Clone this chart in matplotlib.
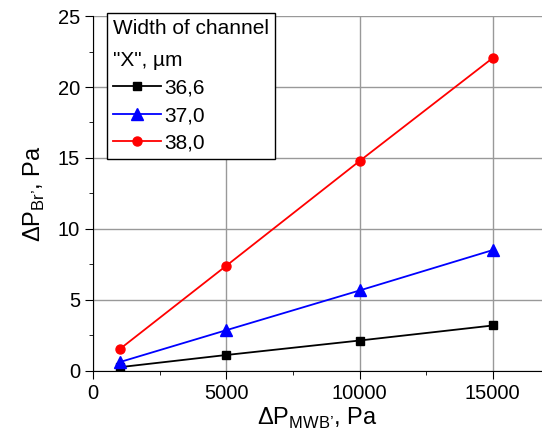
import numpy as np
import matplotlib
matplotlib.use('Agg')
import matplotlib.pyplot as plt
from matplotlib.ticker import MultipleLocator

plt.rcParams['font.family'] = ['Liberation Sans', 'DejaVu Sans']
plt.rcParams['mathtext.fontset'] = 'custom'
plt.rcParams['mathtext.rm'] = 'Liberation Sans'

dp_mwb = [1000, 5000, 10000, 15000]
w_366 = [0.24, 1.1, 2.12, 3.18]
w_370 = [0.6, 2.85, 5.65, 8.5]
w_380 = [1.52, 7.4, 14.78, 22.05]
labels = ['36,6', '37,0', '38,0']

fig = plt.figure(figsize=(5.42, 4.37), dpi=100)
ax = fig.add_axes([0.172, 0.152, 0.828, 0.811])

ax.plot(dp_mwb, w_366, 'k-', marker='s', ms=6, lw=1.3, label=labels[0])
ax.plot(dp_mwb, w_370, '-', color='#0000ff', marker='^', ms=8, lw=1.3, label=labels[1])
ax.plot(dp_mwb, w_380, '-', color='#ff0000', marker='o', ms=6.5, lw=1.3, label=labels[2])

ax.set_xlim(0, 16850)
ax.set_ylim(0, 25)
ax.xaxis.set_major_locator(MultipleLocator(5000))
ax.xaxis.set_minor_locator(MultipleLocator(2500))
ax.yaxis.set_major_locator(MultipleLocator(5))
ax.yaxis.set_minor_locator(MultipleLocator(2.5))
ax.grid(which='major', color='#999999', lw=1)
ax.set_axisbelow(True)
for s in ['top', 'right']:
    ax.spines[s].set_visible(False)
ax.tick_params(which='major', direction='out', length=6, labelsize=14.5)
ax.tick_params(which='minor', direction='out', length=3)

ax.set_xlabel("ΔP$_{\\mathregular{MWB\u2019}}$, Pa", fontsize=17, labelpad=2)
ax.set_ylabel("ΔP$_{\\mathregular{Br\u2019}}$, Pa", fontsize=17, labelpad=8)

leg = ax.legend(title='Width of channel\n"X", µm', loc='upper left',
                bbox_to_anchor=(0.03, 1.01), fontsize=15, title_fontsize=15,
                fancybox=False, edgecolor='black', framealpha=1,
                handlelength=2.3, handletextpad=0.15, borderaxespad=0,
                labelspacing=0.4, borderpad=0.3)
leg._legend_box.align = 'left'
leg.get_title().set_linespacing(1.9)
leg.get_frame().set_linewidth(1)

fig.savefig('out.png', dpi=100)
